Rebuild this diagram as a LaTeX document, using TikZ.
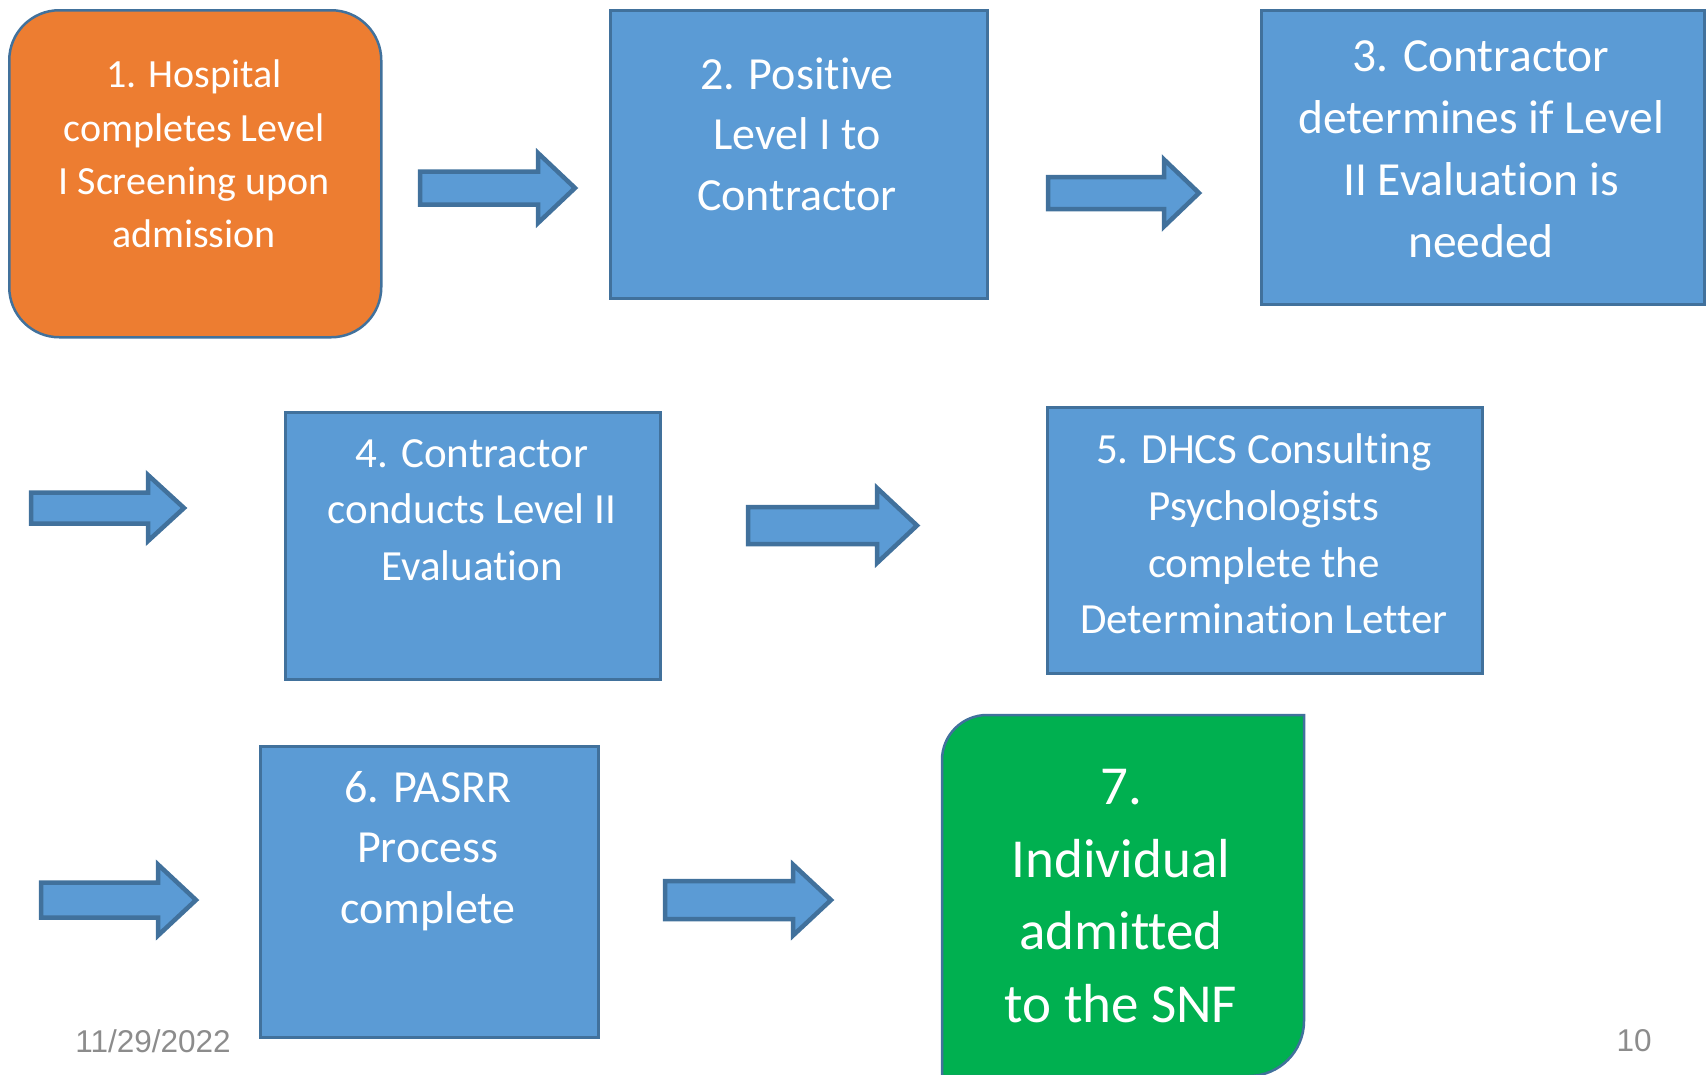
\documentclass[tikz,border=0pt]{standalone}
\usepackage{fontspec}
\setmainfont{Carlito}[Ligatures=NoCommon]
\newfontfamily\footfont{Liberation Sans}
\definecolor{boxblue}{HTML}{5B9BD5}
\definecolor{edgeblue}{HTML}{41719C}
\definecolor{boxorange}{HTML}{ED7D31}
\definecolor{boxgreen}{HTML}{00B050}
\definecolor{footgray}{HTML}{8C8C8C}
\newcommand\blockarrow[7]{% name, x1, x2, yc, shaft half, head half, head length
  \path[arrowshape] ({#2},{#4-#5}) -- ({#3-#7},{#4-#5}) -- ({#3-#7},{#4-#6}) -- ({#3},{#4})
    -- ({#3-#7},{#4+#6}) -- ({#3-#7},{#4+#5}) -- ({#2},{#4+#5}) -- cycle;
  \coordinate (#1) at ({(#2+#3)/2},{#4});}
\tikzset{
  boxshape/.style={draw=edgeblue, line width=2.5pt, fill=boxblue, anchor=north west, inner sep=0pt},
  arrowshape/.style={draw=edgeblue, line width=4.5pt, fill=boxblue, line join=miter},
  boxtext/.style={text=white, align=center, inner sep=0pt},
  foottext/.style={text=footgray, font={\footfont\fontsize{31.5}{37}\selectfont}, inner sep=0pt}
}
\begin{document}
\begin{tikzpicture}[x=1pt,y=-1pt]
\useasboundingbox (0,0) rectangle (1708,1074);
% boxes
\node[boxshape, fill=boxorange, rounded corners=50pt, minimum width=372pt, minimum height=327pt] (b1) at (8,9) {};
\node[boxshape, minimum width=377pt, minimum height=288pt] (b2) at (609,9) {};
\node[boxshape, minimum width=443pt, minimum height=294pt] (b3) at (1260,9) {};
\node[boxshape, minimum width=375pt, minimum height=267pt] (b4) at (284,411) {};
\node[boxshape, minimum width=435pt, minimum height=266pt] (b5) at (1046,406) {};
\node[boxshape, minimum width=338pt, minimum height=291pt] (b6) at (259,745) {};
\path[draw=edgeblue, line width=2.5pt, fill=boxgreen]
  (942,1080) [rounded corners=45pt] -- (942,715) [sharp corners] -- (1304,715)
  [rounded corners=55pt] -- (1304,1076) [sharp corners] -- (942,1076) -- cycle;
\coordinate (b7) at (1123,895);
% texts
\node[boxtext, font={\fontsize{40}{53.4}\selectfont}] (t1) at (194,154)
  {1. Hospital\\completes Level\\I Screening upon\\admission};
\node[boxtext, font={\fontsize{46}{60.5}\selectfont}] (t2) at (797,134)
  {2. Positive\\Level I to\\Contractor};
\node[boxtext, font={\fontsize{47.5}{62}\selectfont}] (t3) at (1481,149)
  {3. Contractor\\determines if Level\\II Evaluation is\\needed};
\node[boxtext, font={\fontsize{43}{56.6}\selectfont}] (t4) at (472,510)
  {4. Contractor\\conducts Level II\\Evaluation};
\node[boxtext, font={\fontsize{43}{56.6}\selectfont}] (t5) at (1264,534)
  {5. DHCS Consulting\\Psychologists\\complete the\\Determination Letter};
\node[boxtext, font={\fontsize{46}{60.5}\selectfont}] (t6) at (428,851)
  {6. PASRR\\Process\\complete};
\node[boxtext, font={\fontsize{55}{72.6}\selectfont}] (t7) at (1121,896)
  {7.\\Individual\\admitted\\to the SNF};
% block arrows
\blockarrow{a1}{420}{575}{188}{16.5}{35}{37}
\blockarrow{a2}{1048}{1199}{193}{16}{33.5}{35}
\blockarrow{a3}{31}{184}{508}{15.5}{33}{36}
\blockarrow{a4}{748}{917}{525.5}{18.5}{37.5}{40}
\blockarrow{a5}{41}{196}{900}{17.5}{35.5}{38}
\blockarrow{a6}{665}{831}{900}{19}{35.5}{38}
% footer
\node[foottext] (date) at (153,1041) {11/29/2022};
\node[foottext] (page) at (1634,1041) {10};
\end{tikzpicture}
\end{document}
